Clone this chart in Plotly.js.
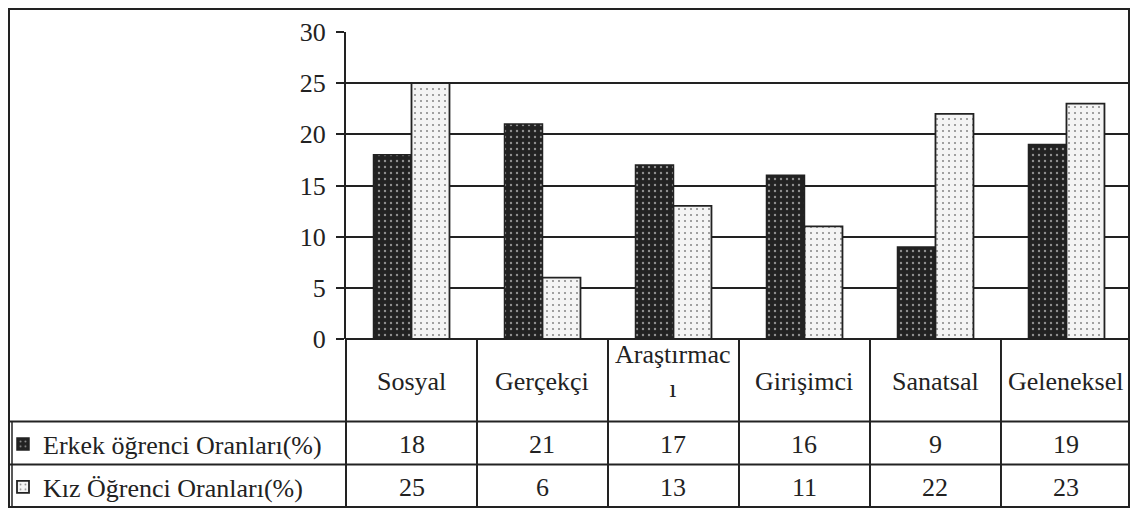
<!DOCTYPE html>
<html>
<head>
<meta charset="utf-8">
<script src="https://cdn.plot.ly/plotly-3.0.1.min.js"></script>
<style>
  html, body { margin: 0; padding: 0; background: #fff; }
  #chart { width: 1130px; height: 508px; }
</style>
</head>
<body>
<div id="chart"></div>
<script>
// Ilgi alanlarina gore ogrenci oranlari
const categories = ['Sosyal', 'Gerçekçi', 'Araştırmacı', 'Girişimci', 'Sanatsal', 'Geleneksel'];
const headerLabels = ['Sosyal', 'Gerçekçi', 'Araştırmac<br>ı', 'Girişimci', 'Sanatsal', 'Geleneksel'];
const erkekName = 'Erkek öğrenci Oranları(%)';
const kizName = 'Kız Öğrenci Oranları(%)';
const erkekValues = [18, 21, 17, 16, 9, 19];
const kizValues = [25, 6, 13, 11, 22, 23];
const yTicks = [0, 5, 10, 15, 20, 25, 30];

const FONT = 'Liberation Serif';
const INK = '#222222';
const FS = 26;

// page geometry
const W = 1130, H = 508;
const M = { l: 346, r: 0, t: 32, b: 169, autoexpand: false };
const plotW = W - M.l - M.r;
const plotH = H - M.t - M.b;
const px = v => (v - M.l) / plotW;          // page x -> paper x
const py = v => (H - M.b - v) / plotH;      // page y -> paper y

const headerMid = 381, headerMidWrapped = 371, row1Mid = 444, row2Mid = 487;
const rowLine1 = 421.5, rowLine2 = 464.5, bottom = 507;

const traces = [
  {
    type: 'bar', name: erkekName, x: categories, y: erkekValues,
    legend: 'legend',
    marker: {
      color: INK,
      line: { color: INK, width: 1.5 },
      pattern: { shape: '.', fgcolor: '#ffffff', bgcolor: INK, size: 6, solidity: 0.12, fillmode: 'overlay' }
    },
    hoverinfo: 'x+y'
  },
  {
    type: 'bar', name: kizName, x: categories, y: kizValues,
    legend: 'legend2',
    marker: {
      color: '#f4f4f4',
      line: { color: INK, width: 1.8 },
      pattern: { shape: '.', fgcolor: INK, bgcolor: '#f4f4f4', size: 6, solidity: 0.1, fillmode: 'overlay' }
    },
    hoverinfo: 'x+y'
  }
];

const shapes = [];
const line = (x0, y0, x1, y1, xref, w) => shapes.push({
  type: 'line', xref: xref || 'paper', yref: 'paper',
  x0, y0, x1, y1, line: { color: INK, width: w || 2 }, layer: 'above'
});

// outer frame
shapes.push({ type: 'rect', xref: 'paper', yref: 'paper',
  x0: px(9), x1: px(1129), y0: py(9), y1: py(bottom),
  line: { color: INK, width: 2 }, layer: 'above' });
// data table rules
line(px(9), py(rowLine1), px(1130), py(rowLine1));
line(px(9), py(rowLine2), px(1130), py(rowLine2));
line(px(12), py(rowLine1), px(12), py(bottom), 'paper', 1.5);
line(px(346), py(339), px(346), py(bottom));
categories.forEach((c, i) => {
  line(i + 0.5, py(339), i + 0.5, py(bottom), 'x');
});

const annotations = [];
const cellFont = { family: FONT, size: FS, color: INK };
categories.forEach((c, i) => {
  const wrapped = headerLabels[i].indexOf('<br>') >= 0;
  annotations.push({ xref: 'x', yref: 'paper', x: i, y: py(wrapped ? headerMidWrapped : headerMid),
    text: headerLabels[i], showarrow: false, xanchor: 'center', yanchor: 'middle',
    font: cellFont });
  annotations.push({ xref: 'x', yref: 'paper', x: i, y: py(row1Mid),
    text: String(erkekValues[i]), showarrow: false, xanchor: 'center', yanchor: 'middle',
    font: cellFont });
  annotations.push({ xref: 'x', yref: 'paper', x: i, y: py(row2Mid),
    text: String(kizValues[i]), showarrow: false, xanchor: 'center', yanchor: 'middle',
    font: cellFont });
});

const legendBase = {
  xref: 'paper', yref: 'paper', xanchor: 'left', yanchor: 'middle',
  bgcolor: 'rgba(0,0,0,0)', borderwidth: 0,
  font: cellFont,
  itemwidth: 30, itemclick: false, itemdoubleclick: false
};

const layout = {
  width: W, height: H,
  margin: M,
  paper_bgcolor: '#ffffff', plot_bgcolor: '#ffffff',
  font: cellFont,
  barmode: 'group', bargap: 0.42, bargroupgap: 0,
  showlegend: true,
  legend: Object.assign({}, legendBase, { x: px(3), y: py(row1Mid) }),
  legend2: Object.assign({}, legendBase, { x: px(3), y: py(row2Mid) }),
  xaxis: {
    type: 'category', range: [-0.5, 5.485],
    showticklabels: false, ticks: '', showgrid: false,
    showline: false, zeroline: false, fixedrange: true
  },
  yaxis: {
    range: [0, 30], tickvals: yTicks, ticktext: yTicks.map(String),
    ticks: 'outside', ticklen: 8, tickwidth: 2, tickcolor: INK,
    ticklabelstandoff: 5,
    showline: true, linecolor: INK, linewidth: 2,
    showgrid: true, gridcolor: INK, gridwidth: 2,
    zeroline: true, zerolinecolor: INK, zerolinewidth: 2.5,
    tickfont: cellFont,
    fixedrange: true
  },
  shapes, annotations
};

Plotly.newPlot('chart', traces, layout, { displayModeBar: false, staticPlot: true });
</script>
</body>
</html>
